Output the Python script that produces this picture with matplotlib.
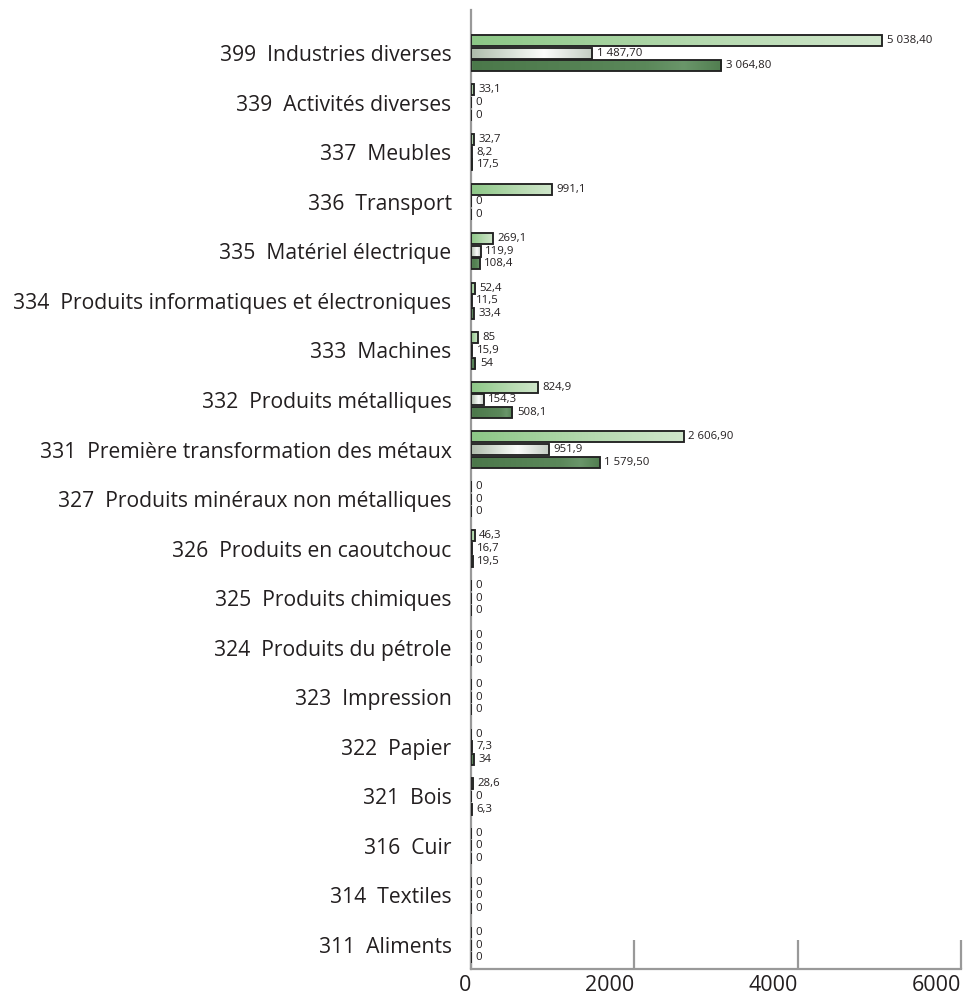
import numpy as np
import matplotlib
matplotlib.use("Agg")
import matplotlib.pyplot as plt
from matplotlib.colors import LinearSegmentedColormap

plt.rcParams['font.family'] = ['Open Sans', 'DejaVu Sans']

# Industry categories, listed top to bottom
categories = [
    "399  Industries diverses",
    "339  Activités diverses",
    "337  Meubles",
    "336  Transport",
    "335  Matériel électrique",
    "334  Produits informatiques et électroniques",
    "333  Machines",
    "332  Produits métalliques",
    "331  Première transformation des métaux",
    "327  Produits minéraux non métalliques",
    "326  Produits en caoutchouc",
    "325  Produits chimiques",
    "324  Produits du pétrole",
    "323  Impression",
    "322  Papier",
    "321  Bois",
    "316  Cuir",
    "314  Textiles",
    "311  Aliments",
]

# Three series per category (top, middle, bottom bar)
series_a = [5038.4, 33.1, 32.7, 991.1, 269.1, 52.4, 85, 824.9, 2606.9, 0,
            46.3, 0, 0, 0, 0, 28.6, 0, 0, 0]
series_b = [1487.7, 0, 8.2, 0, 119.9, 11.5, 15.9, 154.3, 951.9, 0,
            16.7, 0, 0, 0, 7.3, 0, 0, 0, 0]
series_c = [3064.8, 0, 17.5, 0, 108.4, 33.4, 54, 508.1, 1579.5, 0,
            19.5, 0, 0, 0, 34, 6.3, 0, 0, 0]

x_ticks = [0, 2000, 4000, 6000]


def fmt(v):
    if v >= 1000:
        s = f"{v:,.2f}"
        return s.replace(",", " ").replace(".", ",")
    if float(v).is_integer():
        return str(int(v))
    return f"{v:.1f}".replace(".", ",")


grad_a = LinearSegmentedColormap.from_list(
    "ga", [(0.0, "#8cc786"), (0.55, "#b4d9ae"), (1.0, "#d0e6cb")])
grad_b = LinearSegmentedColormap.from_list(
    "gb", [(0.0, "#aebcab"), (0.45, "#e8eee7"), (0.6, "#fbfcfb"), (1.0, "#c3ccc2")])
grad_c = LinearSegmentedColormap.from_list(
    "gc", [(0.0, "#4b784a"), (0.7, "#5b885a"), (0.85, "#6a966a"), (1.0, "#517e50")])

fig = plt.figure(figsize=(9.64, 10.0), dpi=100)
ax = fig.add_axes([471 / 964, 0.031, 490 / 964, 0.959])

n = len(categories)
ypos = np.arange(n)[::-1].astype(float)
step = 0.256
h = 0.222
edge = "#222222"
grad = np.linspace(0, 1, 256).reshape(1, -1)

ax.set_xlim(0, 6000)
ax.set_ylim(-0.484, 18.87)

for vals, off, cmap in [(series_a, step, grad_a), (series_b, 0.0, grad_b), (series_c, -step, grad_c)]:
    bars = ax.barh(ypos + off, vals, height=h, facecolor="none",
                   edgecolor=edge, linewidth=1.35, zorder=3)
    for rect, v in zip(bars, vals):
        x0, y0 = rect.get_x(), rect.get_y()
        w, hh = rect.get_width(), rect.get_height()
        if w > 0:
            im = ax.imshow(grad, cmap=cmap, aspect="auto",
                           extent=[x0, x0 + w, y0, y0 + hh],
                           interpolation="bilinear", zorder=2)
            im.set_clip_path(rect)
        ax.text(x0 + w + 55, y0 + hh / 2, fmt(v), ha="left", va="center",
                fontsize=8.2, color="#231f20", zorder=4)

ax.set_xlim(0, 6000)
ax.set_ylim(-0.484, 18.87)

ax.set_yticks(ypos)
ax.set_yticklabels(categories, fontsize=15.2, color="#231f20")
ax.tick_params(axis="y", length=0, pad=14)

ax.set_xticks(x_ticks)
ax.set_xticklabels([str(t) for t in x_ticks], fontsize=15.5, color="#231f20")
for lab in ax.get_xticklabels():
    lab.set_horizontalalignment("right")
ax.tick_params(axis="x", direction="in", length=21, width=1.6,
               color="#999999", pad=4)

for side in ("top", "right"):
    ax.spines[side].set_visible(False)
for side in ("left", "bottom"):
    ax.spines[side].set_color("#999999")
    ax.spines[side].set_linewidth(1.6)

fig.savefig("out.png", dpi=100)
